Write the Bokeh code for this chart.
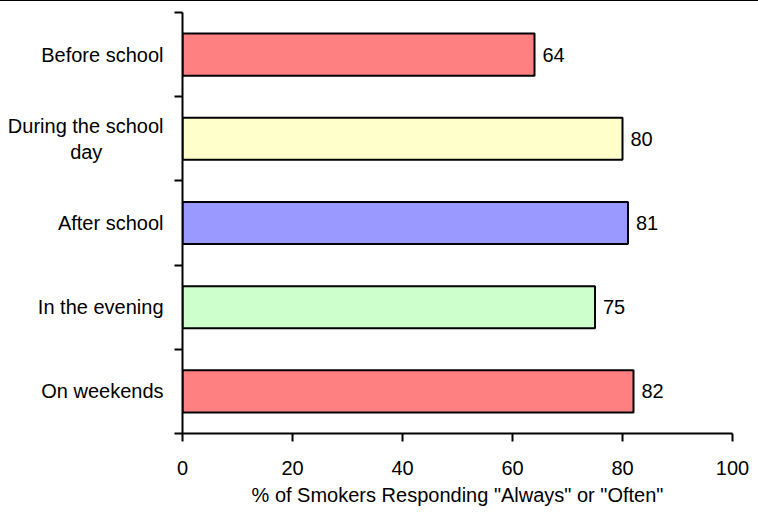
from bokeh.plotting import figure
from bokeh.models import FixedTicker, ColumnDataSource, Div
from bokeh.layouts import column
from bokeh.core.properties import value
from bokeh.embed import file_html
from bokeh.resources import INLINE

categories = ["Before school", "During the school\nday", "After school", "In the evening", "On weekends"]
values = [64, 80, 81, 75, 82]
colors = ["#FF8080", "#FFFFCC", "#9999FF", "#CCFFCC", "#FF8080"]
x_ticks = [0, 20, 40, 60, 80, 100]
x_label = '% of Smokers Responding "Always" or "Often"'

FONT = "Liberation Sans"
FS = "20px"

n = len(categories)
ypos = [n - i - 0.5 for i in range(n)]

# centre the second line of the two-line label under the first one
NB = "\u00a0"
disp_labels = [c.replace("\nday", "\n" + "day" + NB * 11) for c in categories]

src = ColumnDataSource(dict(y=ypos, v=values, c=colors, t=[str(v) for v in values]))

p = figure(width=758, height=510, x_range=(0, 100), y_range=(0, n),
           output_backend="svg", toolbar_location=None,
           min_border_left=182, min_border_right=26, min_border_top=11, min_border_bottom=78)
p.margin = 0

p.hbar(y="y", right="v", left=0, height=0.5, fill_color="c", line_color="black",
       line_width=2, source=src)
p.text(x="v", y="y", text="t", x_offset=8, text_baseline="middle", text_align="left",
       text_font=value(FONT), text_font_size=value(FS), text_color="black", source=src)

p.grid.visible = False
p.outline_line_color = None
p.background_fill_color = "white"
p.border_fill_color = "white"

xa = p.xaxis[0]
xa.ticker = FixedTicker(ticks=x_ticks)
xa.axis_line_width = 2
xa.axis_line_color = "black"
xa.major_tick_in = 0
xa.major_tick_out = 8
xa.major_tick_line_width = 2
xa.major_tick_line_color = "black"
xa.minor_tick_out = 0
xa.minor_tick_in = 0
xa.major_label_text_font = FONT
xa.major_label_text_font_size = FS
xa.major_label_text_color = "black"
xa.major_label_standoff = 19
xa.axis_label = x_label
xa.axis_label_text_font = FONT
xa.axis_label_text_font_size = FS
xa.axis_label_text_font_style = "normal"
xa.axis_label_text_color = "black"
xa.axis_label_standoff = 6

ya = p.yaxis[0]
ya.ticker = FixedTicker(ticks=ypos, minor_ticks=list(range(n + 1)))
ya.major_label_overrides = {y: c for y, c in zip(ypos, disp_labels)}
ya.axis_line_width = 2
ya.axis_line_color = "black"
ya.major_tick_in = 0
ya.major_tick_out = 0
ya.minor_tick_in = 0
ya.minor_tick_out = 8
ya.minor_tick_line_width = 2
ya.minor_tick_line_color = "black"
ya.major_label_text_font = FONT
ya.major_label_text_font_size = FS
ya.major_label_text_color = "black"
ya.major_label_standoff = 11

top_rule = Div(text="", width=758, height=1, margin=0,
               styles={"background-color": "black"})

layout = column(top_rule, p, spacing=0, margin=0)
open("out.html", "w").write(file_html(layout, INLINE))
